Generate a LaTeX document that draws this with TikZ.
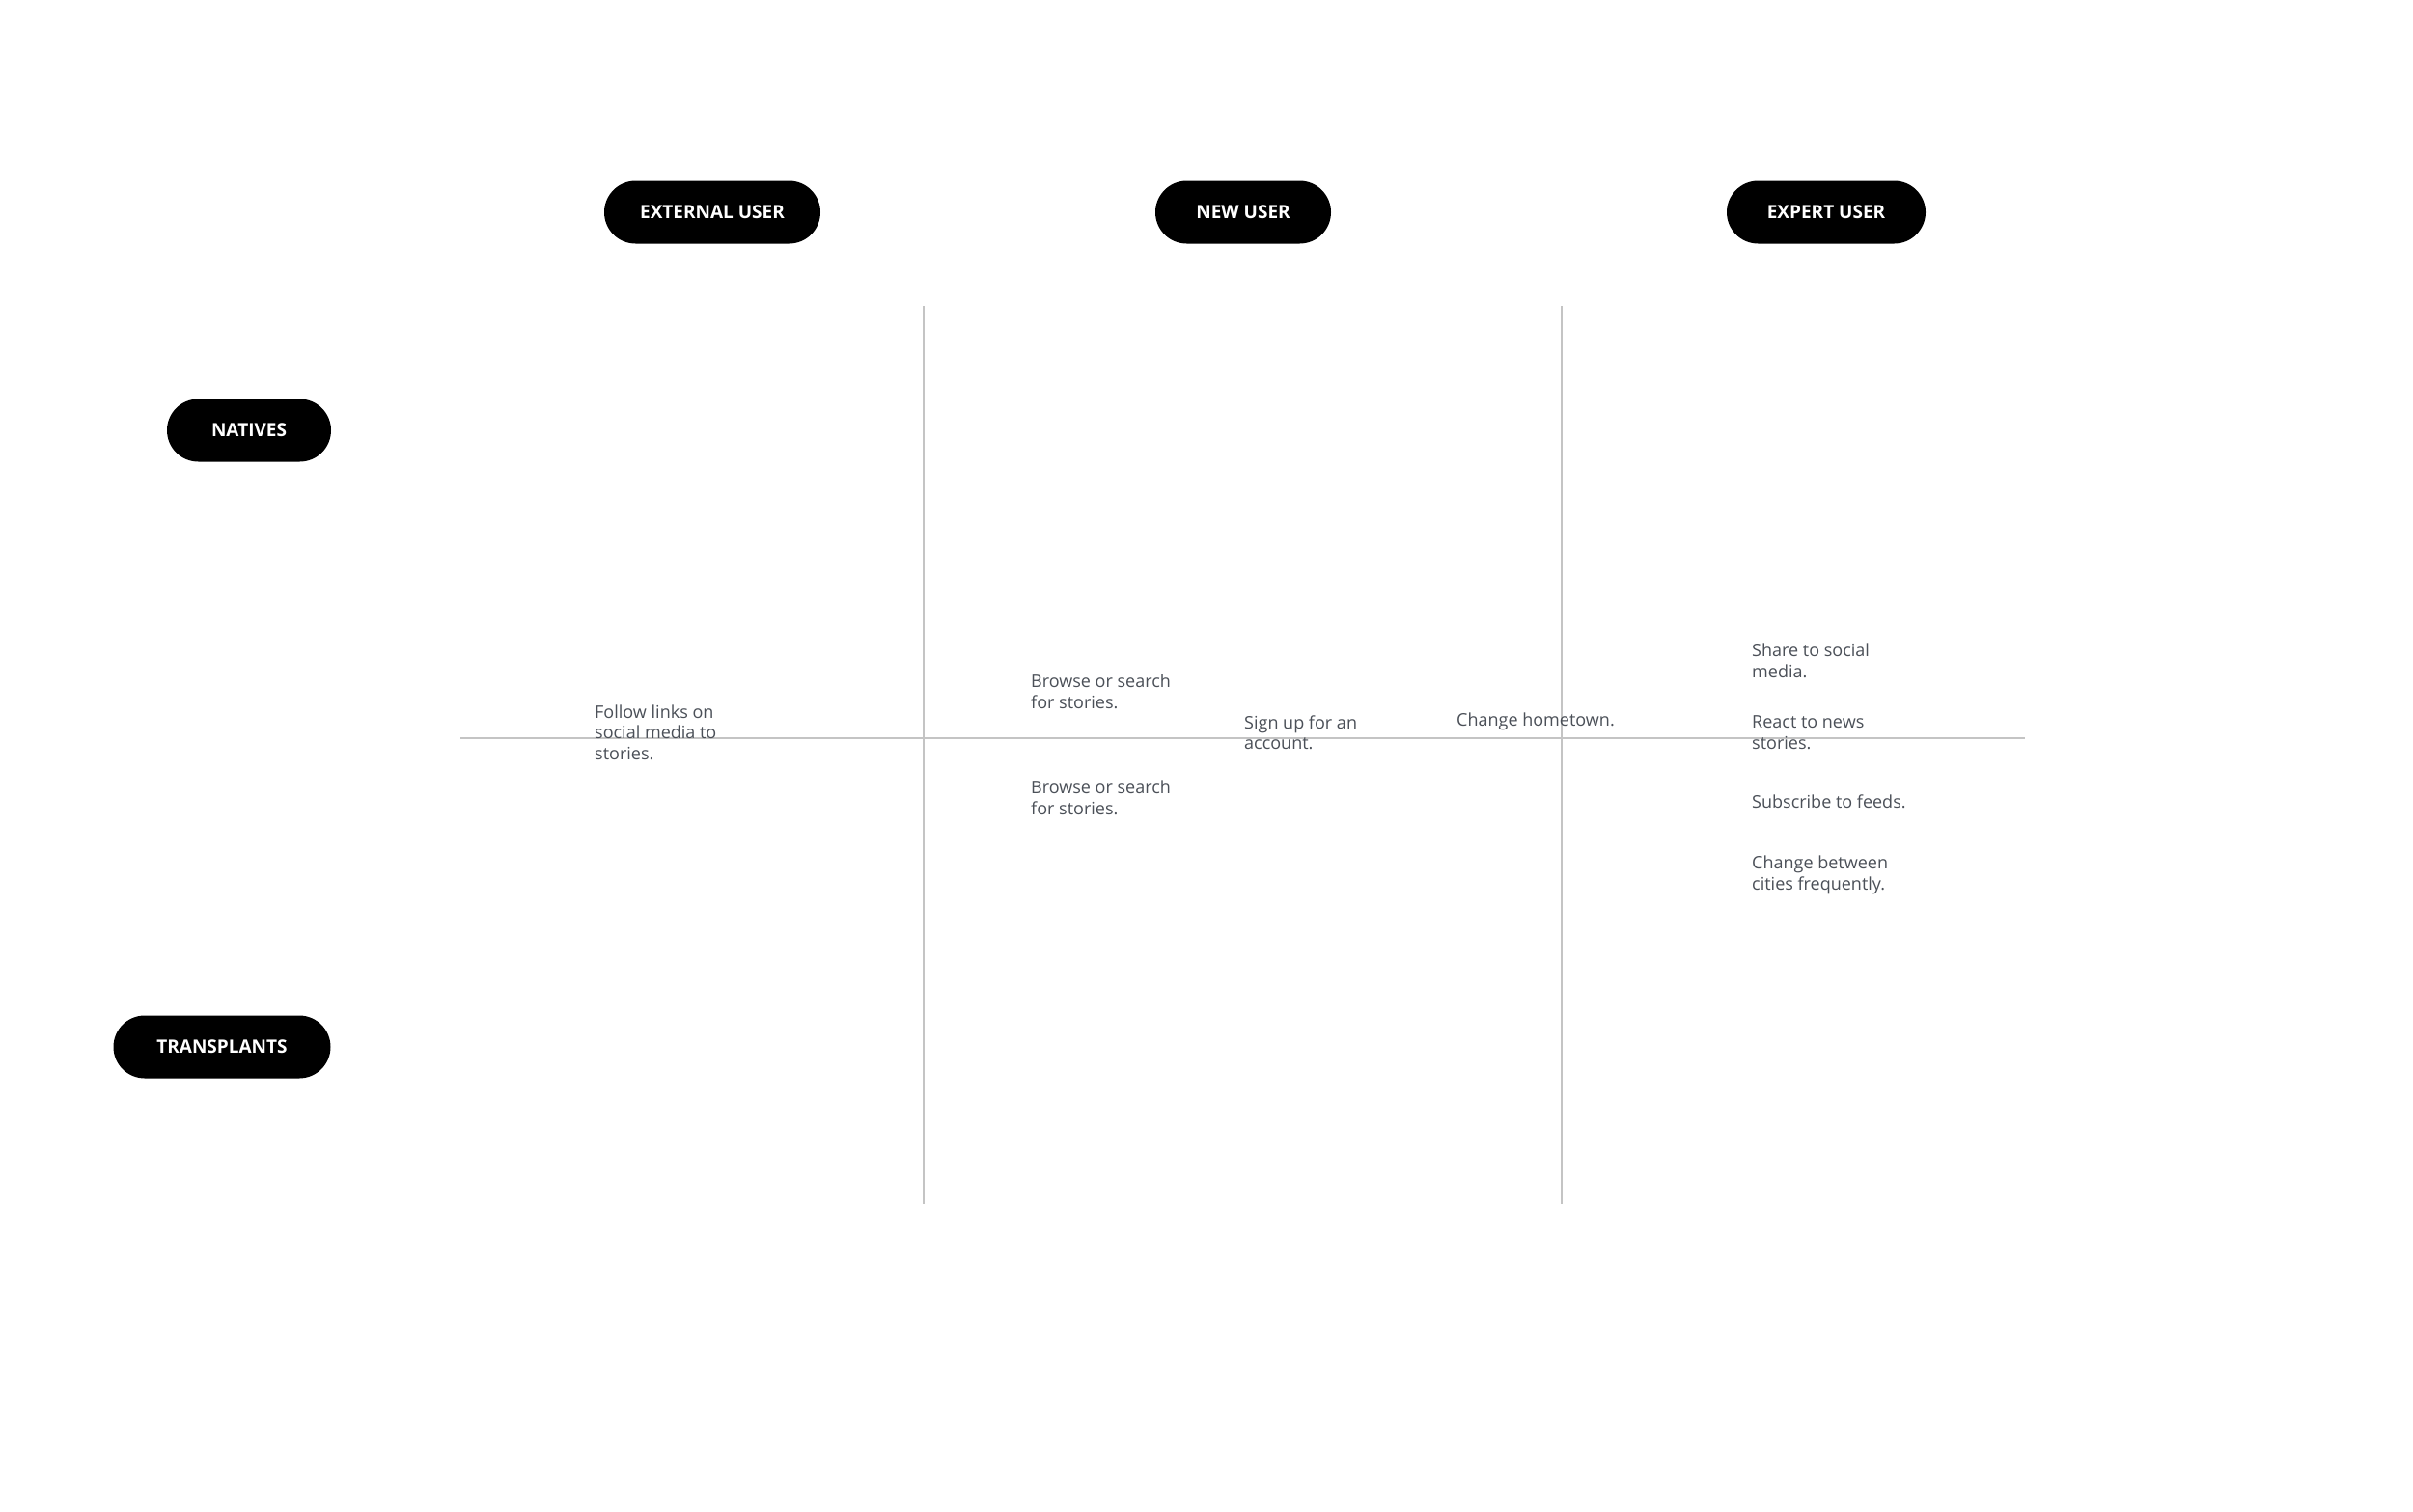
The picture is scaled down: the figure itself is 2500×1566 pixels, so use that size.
\documentclass[tikz,border=0pt]{standalone}
\usepackage{fontspec}
\setmainfont{Open Sans}
\definecolor{txt}{HTML}{4B5058}
\definecolor{gridc}{HTML}{C4C4C4}
\begin{document}
\begin{tikzpicture}[x=1pt,y=-1pt,
  pill/.style={fill=black,rounded corners=32.5pt,minimum height=65pt,inner sep=0pt,
    text=white,font=\fontsize{19}{22}\selectfont\bfseries},
  note/.style={anchor=west,align=left,inner sep=0pt,text=txt,
    font=\fontsize{18}{21.5}\selectfont},
  gridline/.style={draw=gridc,line width=1.6pt}]
\useasboundingbox (0,0) rectangle (2500,1566);
\fill[white] (0,0) rectangle (2500,1566);
% axes
\coordinate (v1t) at (957,317); \coordinate (v1b) at (957,1248);
\coordinate (v2t) at (1618,317); \coordinate (v2b) at (1618,1248);
\coordinate (hl) at (477,765); \coordinate (hr) at (2098,765);
\draw[gridline] (v1t) -- (v1b);
\draw[gridline] (v2t) -- (v2b);
\draw[gridline] (hl) -- (hr);
% headers
\node[pill,minimum width=224pt] (ext) at (738,220) {EXTERNAL USER};
\node[pill,minimum width=182pt] (new) at (1288,220) {NEW USER};
\node[pill,minimum width=206pt] (exp) at (1892,220) {EXPERT USER};
\node[pill,minimum width=170pt] (nat) at (258,446) {NATIVES};
\node[pill,minimum width=225pt] (tra) at (230,1085) {TRANSPLANTS};
% notes
\node[note] (n1) at (616,759) {Follow links on\\social media to\\stories.};
\node[note] (n2) at (1068,717) {Browse or search\\for stories.};
\node[note] (n3) at (1068,827) {Browse or search\\for stories.};
\node[note] (n4) at (1289,759) {Sign up for an\\account.};
\node[note] (n5) at (1509,748) {Change hometown.};
\node[note] (n6) at (1815,685) {Share to social\\media.};
\node[note] (n7) at (1815,759) {React to news\\stories.};
\node[note] (n8) at (1815,831) {Subscribe to feeds.};
\node[note] (n9) at (1815,907) {Change between\\cities frequently.};
\end{tikzpicture}
\end{document}
